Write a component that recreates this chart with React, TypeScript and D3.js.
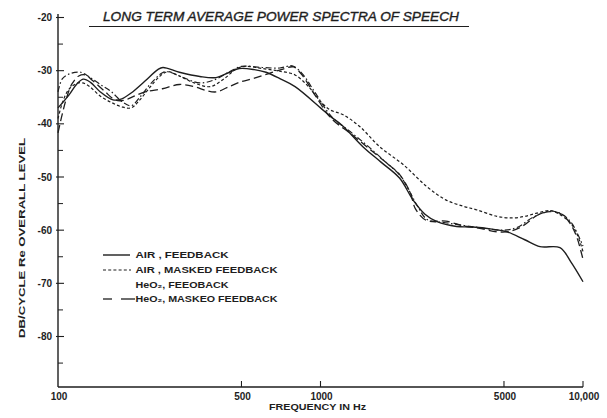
import React from "react";
import * as d3 from "d3";

const W = 607;
const H = 418;

// frequency (Hz) and level (dB) pairs per series
const airFeedbackF = [100, 110, 118, 125, 133, 145, 162, 175, 190, 214, 240, 251, 290, 347, 400, 450, 490, 560, 620, 700, 800, 1000, 1090, 1210, 1450, 1700, 2000, 2250, 2500, 2780, 3300, 3800, 4500, 5130, 6000, 6860, 8170, 9000, 10000];
const airFeedbackDb = [-37, -34.6, -32.5, -31.6, -32.2, -34, -35.5, -35.3, -34.2, -32, -29.8, -29.4, -30.3, -31.1, -31.3, -30.3, -29.6, -29.8, -30.3, -31.5, -33, -37, -38.6, -40.3, -44.3, -47.2, -50.2, -54.3, -57, -58.4, -59.3, -59.4, -59.8, -60.3, -61.8, -63.1, -63.3, -66, -69.7];

const airMaskedF = [100, 104, 110, 118, 124, 132, 145, 160, 175, 190, 205, 225, 245, 262, 290, 330, 380, 430, 480, 520, 600, 700, 800, 900, 1000, 1090, 1220, 1410, 1680, 2070, 2540, 3000, 3500, 3950, 4700, 5400, 6000, 6660, 7500, 8000, 8950, 9500, 10000];
const airMaskedDb = [-39, -36, -33.5, -32.4, -32.3, -33, -34.8, -36, -36.8, -37, -35.5, -33, -31, -30.2, -31, -32.3, -33, -31.5, -29.6, -29.2, -29.6, -30.1, -30.8, -33, -35.8, -37.4, -38.3, -40.5, -44.3, -47.7, -51.8, -54.3, -55.5, -56.2, -57.4, -57.7, -57.4, -56.8, -56.3, -56.8, -58.6, -60.8, -64];

const heoFeedbackF = [100, 104, 112, 122, 132, 145, 160, 175, 190, 205, 225, 250, 262, 290, 347, 400, 450, 500, 600, 700, 780, 850, 950, 1100, 1300, 1500, 1800, 2000, 2200, 2350, 2550, 3000, 4000, 5000, 5600, 6500, 7500, 8300, 9000, 9600, 10000];
const heoFeedbackDb = [-34, -31.5, -30.5, -30.3, -31.2, -32.6, -34, -35.8, -36.6, -35, -32.5, -30.4, -30.2, -31, -32.3, -31.6, -30.2, -29.2, -29.4, -29.5, -29.1, -30.5, -34, -38.6, -41.5, -44, -47.5, -49.6, -53, -55.6, -58, -58.6, -59.5, -60, -59.5, -57.5, -56.4, -57, -58.5, -61, -63];

const heoMaskedF = [100, 104, 108, 113, 120, 127, 135, 150, 165, 178, 195, 215, 250, 290, 330, 370, 400, 440, 490, 560, 640, 720, 790, 850, 950, 1100, 1300, 1500, 1800, 2000, 2200, 2300, 2540, 3000, 3500, 4000, 4700, 5300, 5900, 6700, 7500, 8300, 9000, 9500, 10000];
const heoMaskedDb = [-41.7, -38, -35, -32.5, -31, -30.8, -31.8, -33.8, -35.5, -35.6, -34.8, -34, -33.4, -32.6, -33, -33.8, -34, -33.2, -32.2, -31.4, -30.5, -29.7, -29.3, -30.8, -34.5, -39, -41.8, -44.3, -47.5, -49.5, -53, -56, -58.2, -58.3, -59.2, -59.6, -60.3, -60.2, -59.2, -57.2, -56.5, -57, -59, -61.5, -65.5];

const yMajorTicks = [-20, -30, -40, -50, -60, -70, -80];
const yMinorTicks = [-25, -35, -45, -55, -65, -75, -85];
const xTicks = [100, 500, 1000, 5000, 10000];
const xTickLabels = ["100", "500", "1000", "5000", "10,000"];

const title = "LONG TERM AVERAGE POWER SPECTRA OF SPEECH";
const xTitle = "FREQUENCY IN Hz";
const yTitle = "DB/CYCLE Re OVERALL LEVEL";

const legendLabels = ["AIR ,  FEEDBACK", "AIR ,  MASKED FEEDBACK", "HeO\u2082,  FEEOBACK", "HeO\u2082,  MASKEO FEEDBACK"];

const ink = "#1e1e1e";
const font = "'Liberation Sans', Arial, sans-serif";

export default function App() {
  const x = d3.scaleLog().domain([100, 10000]).range([58, 583]);
  const y = d3.scaleLinear().domain([-20, -80]).range([17.5, 336.5]);
  const yBottom = -89.5;

  const line = d3
    .line<[number, number]>()
    .x((d) => x(d[0]))
    .y((d) => y(d[1]))
    .curve(d3.curveCatmullRom.alpha(0.5));

  const zip = (f: number[], v: number[]) => f.map((ff, i) => [ff, v[i]] as [number, number]);

  const series = [
    { data: zip(airFeedbackF, airFeedbackDb), dash: "none", w: 1.4 },
    { data: zip(airMaskedF, airMaskedDb), dash: "3,2.2", w: 1.2 },
    { data: zip(heoFeedbackF, heoFeedbackDb), dash: "6,2.5,1.5,2.5", w: 1.2 },
    { data: zip(heoMaskedF, heoMaskedDb), dash: "8,4", w: 1.3 },
  ];

  const x0 = x(100);
  const yb = y(yBottom);

  const legendY = [258, 273, 287.5, 302];
  const legendW = [93, 142, 93, 142];

  return (
    <svg
      width={W}
      height={H}
      style={{ position: "absolute", left: 0, top: 0, background: "#fff" }}
      fontFamily={font}
    >
      <rect x={0} y={0} width={W} height={H} fill="#fff" />
      {/* title */}
      <text
        x={103}
        y={21}
        fontSize={12.5}
        fontStyle="italic"
        fill={ink}
        stroke={ink}
        strokeWidth={0.35}
        textLength={356}
        lengthAdjust="spacingAndGlyphs"
      >
        {title}
      </text>
      <line x1={89} x2={469} y1={26.5} y2={26.5} stroke={ink} strokeWidth={1.2} />

      {/* y axis */}
      <line x1={x0} x2={x0} y1={14} y2={yb} stroke={ink} strokeWidth={1.4} />
      {yMajorTicks.map((t) => (
        <g key={"M" + t}>
          <line x1={x0 - 2} x2={x0 + 6} y1={y(t)} y2={y(t)} stroke={ink} strokeWidth={1.1} />
          <text x={52} y={y(t) + 3.5} fontSize={10} fontWeight="bold" textAnchor="end" fill={ink}>
            {"-" + Math.abs(t)}
          </text>
        </g>
      ))}
      {yMinorTicks.map((t) => (
        <line key={"m" + t} x1={x0} x2={x0 + 5} y1={y(t)} y2={y(t)} stroke={ink} strokeWidth={1} />
      ))}

      {/* x axis */}
      <line x1={x0} x2={x(10000)} y1={yb} y2={yb} stroke={ink} strokeWidth={1.4} />
      {xTicks.map((t, i) => (
        <g key={"x" + t}>
          {i > 0 && <line x1={x(t)} x2={x(t)} y1={yb} y2={yb - 6} stroke={ink} strokeWidth={1.1} />}
          <text x={x(t) + 1} y={400} fontSize={10} fontWeight="bold" textAnchor="middle" fill={ink}>
            {xTickLabels[i]}
          </text>
        </g>
      ))}
      <text
        x={269}
        y={410}
        fontSize={8.5}
        fontWeight="bold"
        fill={ink}
        textLength={97}
        lengthAdjust="spacingAndGlyphs"
      >
        {xTitle}
      </text>
      <text
        transform={`translate(24.5,338) rotate(-90)`}
        fontSize={8.5}
        fontWeight="bold"
        fill={ink}
        textLength={200}
        lengthAdjust="spacingAndGlyphs"
      >
        {yTitle}
      </text>

      {/* curves */}
      {series.map((s, i) => (
        <path
          key={"s" + i}
          d={line(s.data) || ""}
          fill="none"
          stroke={ink}
          strokeWidth={s.w}
          strokeDasharray={s.dash}
          strokeLinejoin="round"
        />
      ))}

      {/* legend */}
      <line x1={103} x2={130} y1={legendY[0] - 3} y2={legendY[0] - 3} stroke={ink} strokeWidth={1.4} />
      <line x1={103} x2={131} y1={legendY[1] - 3} y2={legendY[1] - 3} stroke={ink} strokeWidth={1.2} strokeDasharray="3,2.2" />
      <line x1={103} x2={112} y1={legendY[3] - 3} y2={legendY[3] - 3} stroke={ink} strokeWidth={1.3} />
      <line x1={121} x2={135} y1={legendY[3] - 3} y2={legendY[3] - 3} stroke={ink} strokeWidth={1.3} />
      {legendLabels.map((l, i) => (
        <text
          key={"l" + i}
          x={135.5}
          y={legendY[i]}
          fontSize={8.5}
          fontWeight="bold"
          fill={ink}
          textLength={legendW[i]}
          lengthAdjust="spacingAndGlyphs"
        >
          {l}
        </text>
      ))}
    </svg>
  );
}
